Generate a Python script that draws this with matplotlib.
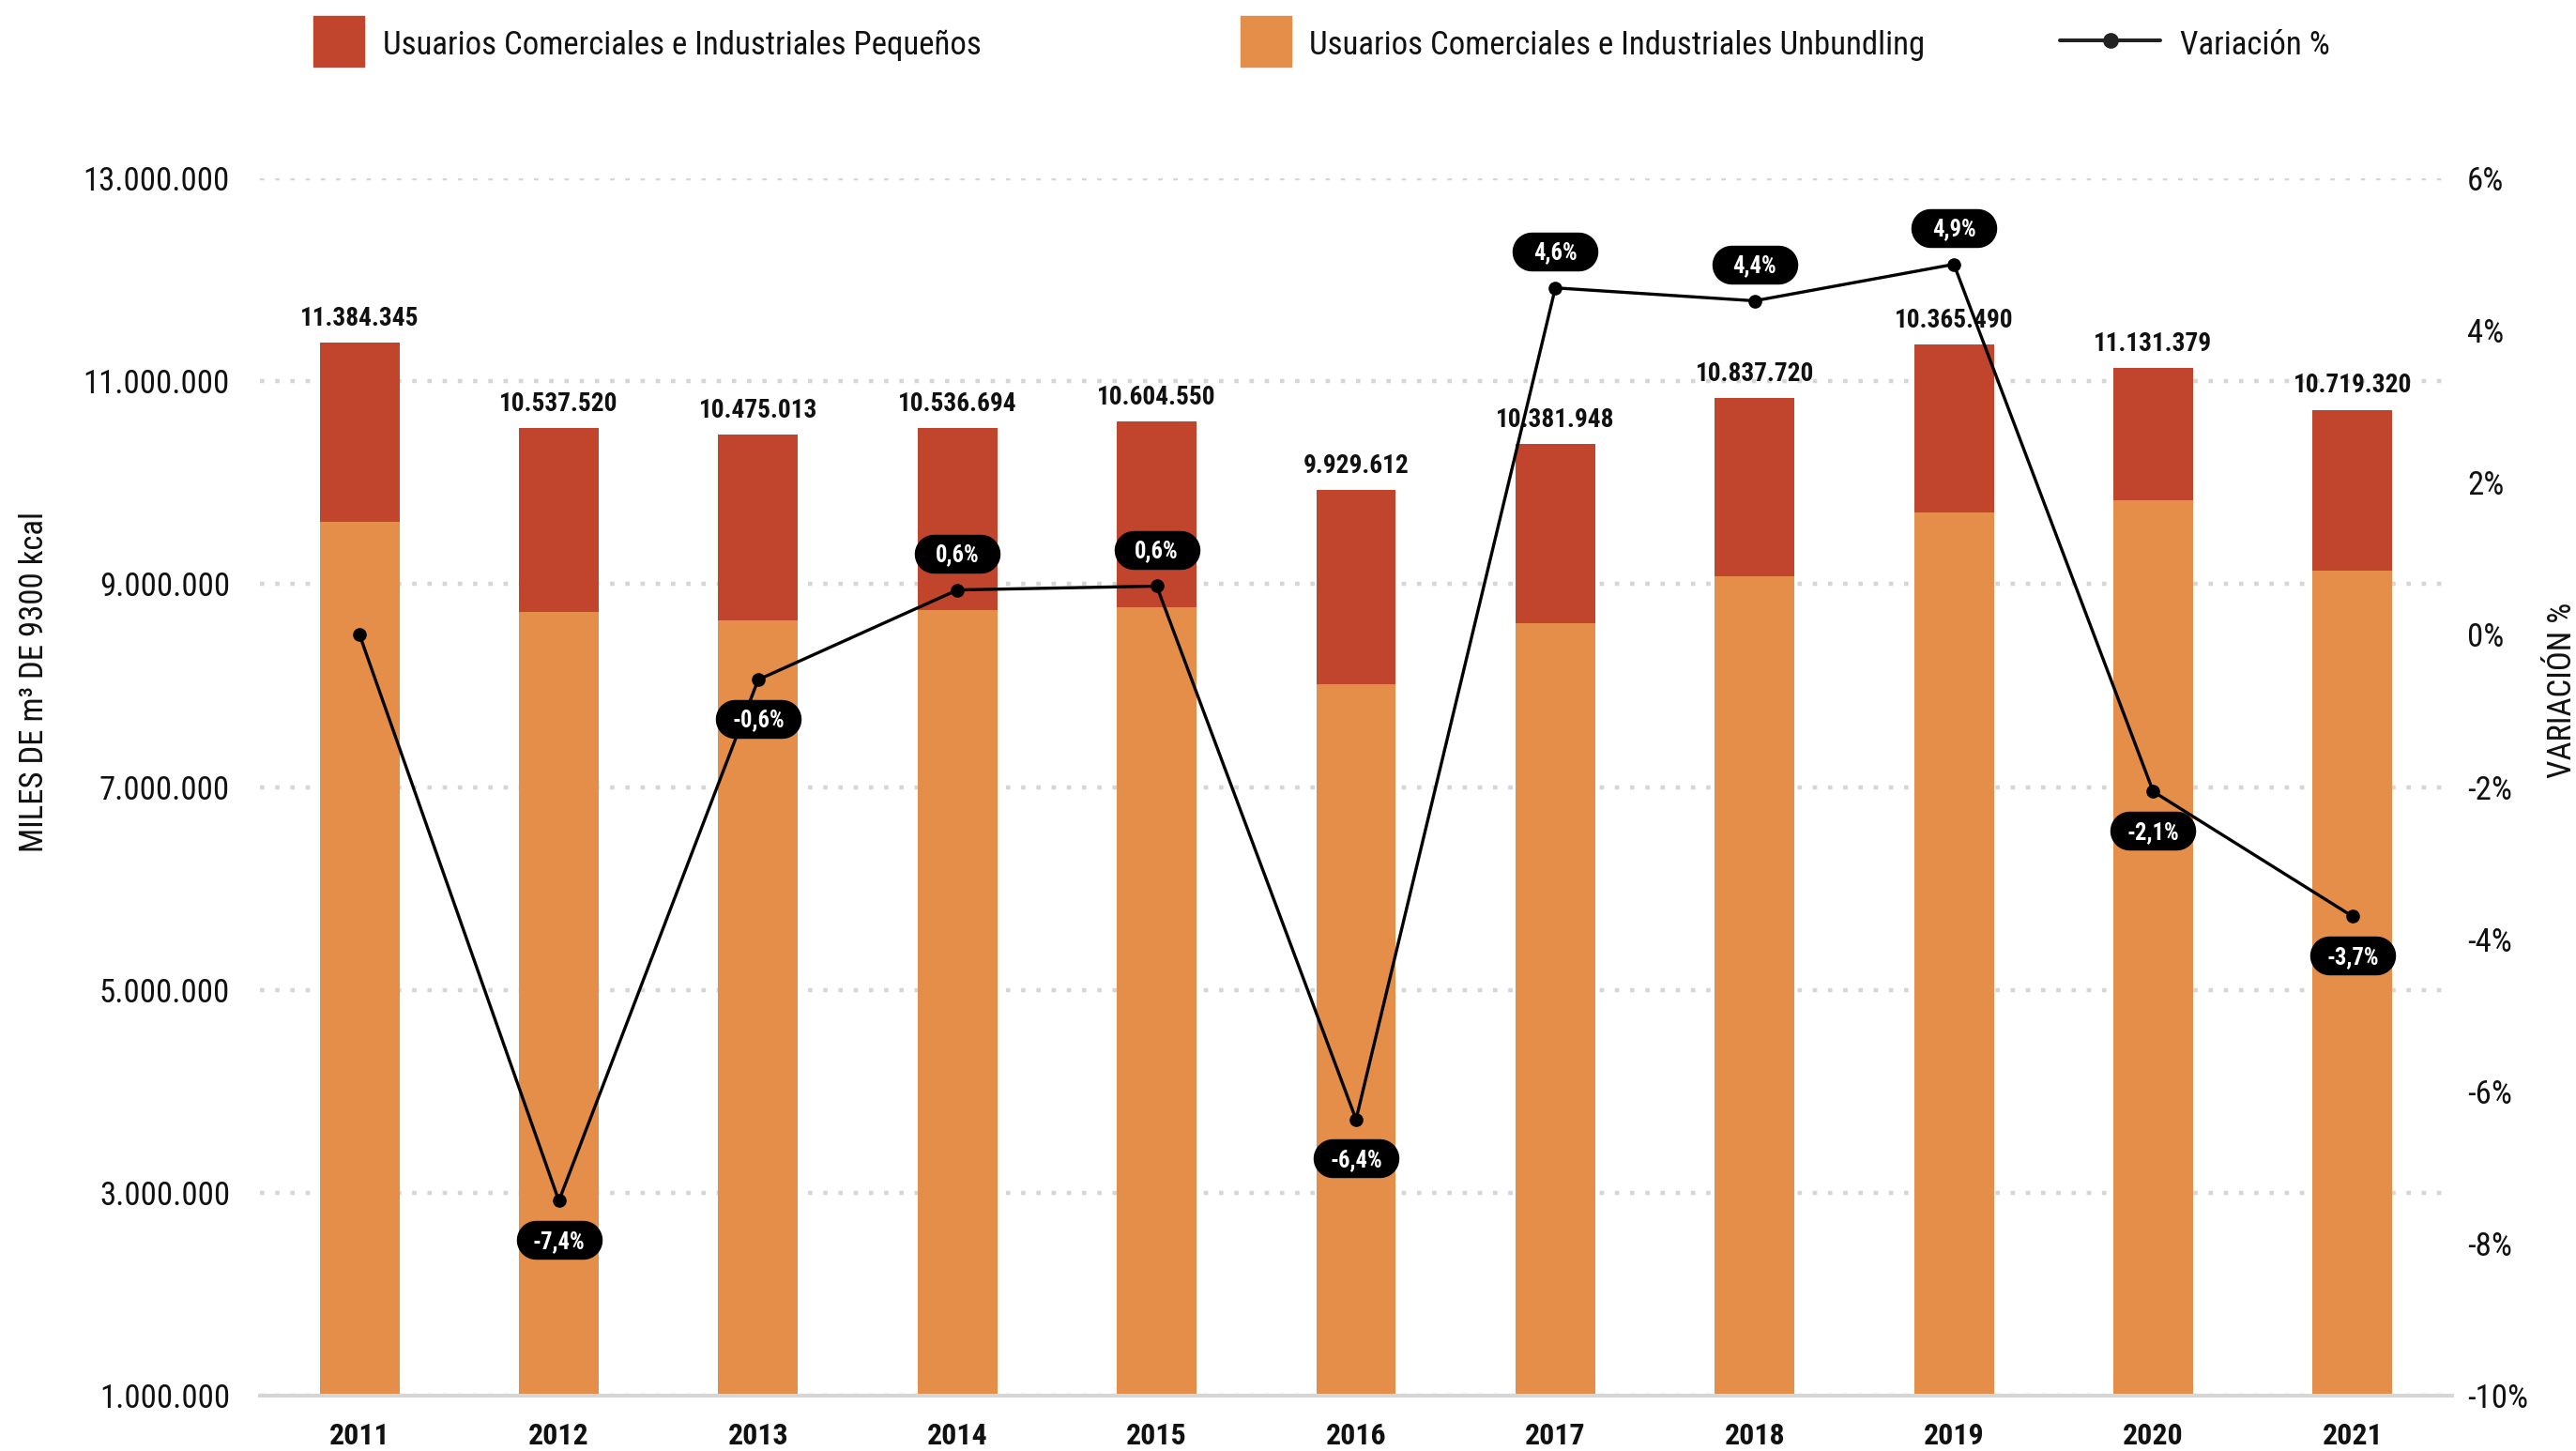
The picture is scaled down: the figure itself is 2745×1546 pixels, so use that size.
import numpy as np
import matplotlib
matplotlib.use("Agg")
import matplotlib.pyplot as plt
from matplotlib import font_manager as fm
from matplotlib.path import Path
from matplotlib.patches import Rectangle
from matplotlib.lines import Line2D
from matplotlib.transforms import ScaledTranslation

# ---------------- data ----------------
years = ["2011", "2012", "2013", "2014", "2015", "2016", "2017", "2018", "2019", "2020", "2021"]
unbundling = [9613000, 8726000, 8645000, 8742000, 8774000, 8016000, 8613000, 9081000, 9710000, 9823000, 9129000]
pequenos = [1771345, 1811520, 1830013, 1794694, 1830550, 1913612, 1768948, 1756720, 1655490, 1308379, 1590320]
total_labels = ["11.384.345", "10.537.520", "10.475.013", "10.536.694", "10.604.550", "9.929.612",
                "10.381.948", "10.837.720", "10.365.490", "11.131.379", "10.719.320"]
variacion = [0.0, -7.44, -0.59, 0.59, 0.64, -6.37, 4.56, 4.39, 4.87, -2.06, -3.70]
var_labels = [None, "-7,4%", "-0,6%", "0,6%", "0,6%", "-6,4%", "4,6%", "4,4%", "4,9%", "-2,1%", "-3,7%"]
left_ticks = [1000000, 3000000, 5000000, 7000000, 9000000, 11000000, 13000000]
right_ticks = [-10, -8, -6, -4, -2, 0, 2, 4, 6]

RED = "#C0452C"
ORANGE = "#E48E4A"
GRID = "#d6d6d6"

# ---------------- fonts ----------------
names = {f.name for f in fm.fontManager.ttflist}
if "Roboto Condensed" in names:
    plt.rcParams["font.family"] = ["Roboto Condensed", "DejaVu Sans"]
elif "Roboto" in names:
    plt.rcParams["font.family"] = ["Roboto", "DejaVu Sans"]
    if any(f.name == "Roboto" and "condensed" in str(f.stretch) for f in fm.fontManager.ttflist):
        plt.rcParams["font.stretch"] = "condensed"

W, H = 2745, 1546
fig = plt.figure(figsize=(W / 100, H / 100), dpi=100)
ax = fig.add_axes([277 / W, 1 - 1487 / H, (2613 - 277) / W, (1487 - 190) / H])

x = np.arange(len(years))
unb = np.array(unbundling)
peq = np.array(pequenos)
tot = unb + peq

ax.bar(x, unb, width=0.4, color=ORANGE, zorder=2, linewidth=0)
ax.bar(x, peq, bottom=unb, width=0.4, color=RED, zorder=2, linewidth=0)

ax.set_xlim(-0.5, len(years) - 0.5)
ax.set_ylim(left_ticks[0], left_ticks[-1])
ax.set_yticks(left_ticks)
ax.set_yticklabels([f"{v:,}".replace(",", ".") for v in left_ticks])
ax.set_xticks(x)
ax.set_xticklabels(years, fontweight="bold")
ax.tick_params(axis="y", length=0, pad=23, labelsize=25, colors="#111111")
ax.tick_params(axis="x", length=0, pad=20, labelsize=23, colors="#111111")
ax.set_axisbelow(True)
ax.yaxis.grid(True, color=GRID, linewidth=3.2, linestyle=(0, (1.05, 2.6)))
for s in ["left", "right", "top"]:
    ax.spines[s].set_visible(False)
ax.spines["bottom"].set_color(GRID)
ax.spines["bottom"].set_linewidth(2.9)

for xi, t, lab in zip(x, tot, total_labels):
    ax.annotate(lab, (xi, t), xytext=(0, 13), textcoords="offset points",
                ha="center", va="baseline", fontsize=19.7, fontweight="bold", color="#111111")

# ---------------- variation line ----------------
ax2 = ax.twinx()
ax2.set_ylim(right_ticks[0], right_ticks[-1])
ax2.set_yticks(right_ticks)
ax2.set_yticklabels([f"{v}%" for v in right_ticks])
ax2.tick_params(axis="y", length=0, pad=11.5, labelsize=25, colors="#111111")
for s in ax2.spines.values():
    s.set_visible(False)

ax2.plot(x, variacion, color="black", linewidth=2.4, marker="o", markersize=9.5, zorder=3)

# pill shape marker
def pill_path(w=2.25, h=1.0, n=24):
    r = h / 2
    c = w / 2 - r
    a1 = np.linspace(-np.pi / 2, np.pi / 2, n)
    a2 = np.linspace(np.pi / 2, 3 * np.pi / 2, n)
    v = np.vstack([np.column_stack([c + r * np.cos(a1), r * np.sin(a1)]),
                   np.column_stack([-c + r * np.cos(a2), r * np.sin(a2)])])
    v = np.vstack([v, v[:1]])
    return Path(v, closed=True)

PILL = pill_path()
for xi, v, lab in zip(x, variacion, var_labels):
    if lab is None:
        continue
    dy = 28 if v > 0 else -30
    tr = ax2.transData + ScaledTranslation(0, dy / 72, fig.dpi_scale_trans)
    ax2.plot([xi], [v], marker=PILL, markersize=64.8, color="black", linestyle="none",
             transform=tr, zorder=4, clip_on=False)
    tr2 = ax2.transData + ScaledTranslation(0, (dy - 6.3) / 72, fig.dpi_scale_trans)
    ax2.text(xi, v, lab, transform=tr2, ha="center", va="baseline", color="white",
             fontsize=17.7, fontweight="bold", zorder=5, clip_on=False)

# ---------------- axis titles ----------------
fig.text(37 / W, 1 - 726 / H, "MILES DE m³ DE 9300 kcal", rotation=90,
         ha="center", va="center", fontsize=25, color="#111111")
fig.text(2730 / W, 1 - 735 / H, "VARIACIÓN %", rotation=90,
         ha="center", va="center", fontsize=25, color="#111111")

# ---------------- legend (manual) ----------------
fig.patches.append(Rectangle((334 / W, 1 - 71 / H), 54 / W, 54 / H,
                             transform=fig.transFigure, color=RED, figure=fig))
fig.text(408 / W, 1 - 58 / H, "Usuarios Comerciales e Industriales Pequeños",
         ha="left", va="baseline", fontsize=25, color="#111111")
fig.patches.append(Rectangle((1322 / W, 1 - 71 / H), 54 / W, 54 / H,
                             transform=fig.transFigure, color=ORANGE, figure=fig))
fig.text(1395 / W, 1 - 58 / H, "Usuarios Comerciales e Industriales Unbundling",
         ha="left", va="baseline", fontsize=25, color="#111111")
fig.lines.append(Line2D([2195 / W, 2302 / W], [1 - 43 / H, 1 - 43 / H], transform=fig.transFigure,
                        color="#222222", linewidth=2.9, solid_capstyle="round", figure=fig))
fig.lines.append(Line2D([2248.5 / W], [1 - 43 / H], transform=fig.transFigure, marker="o",
                        markersize=11, color="#222222", linestyle="none", figure=fig))
fig.text(2323 / W, 1 - 58 / H, "Variación %", ha="left", va="baseline", fontsize=25, color="#111111")

fig.savefig("out.png", dpi=100)
